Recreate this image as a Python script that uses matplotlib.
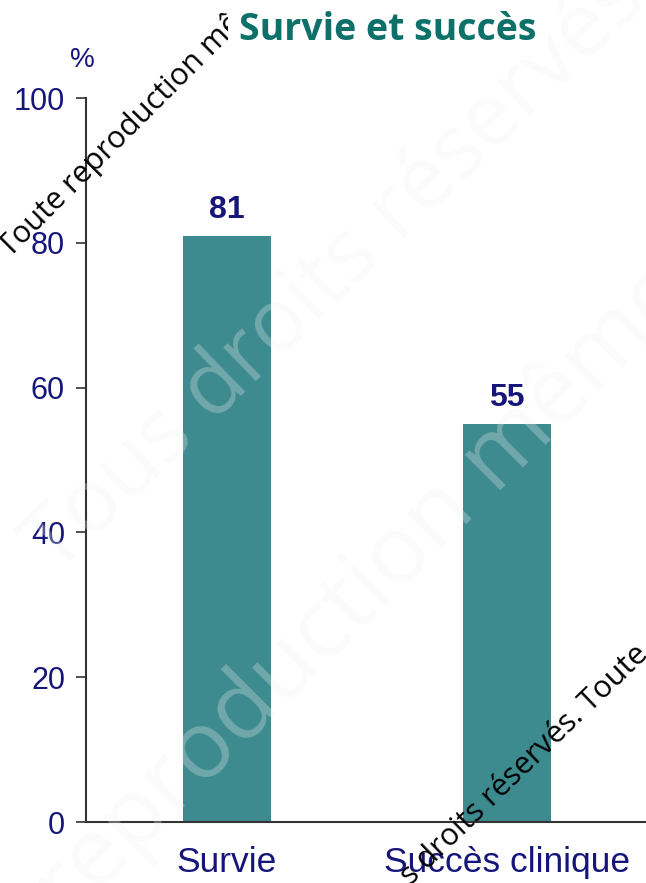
import matplotlib
matplotlib.use("Agg")
import matplotlib.pyplot as plt  # noqa: E402

categories = ["Survie", "Succès clinique"]
values = [81, 55]
yticks = [0, 20, 40, 60, 80, 100]

NAVY, TEAL, BAR = "#16167a", "#0d7069", "#3d8a8f"
W, H = 646, 883


def px(x, y):
    # pixel position (from top-left) -> figure fraction
    return x / W, 1 - y / H


fig = plt.figure(figsize=(6.46, 8.83), dpi=100)
ax = fig.add_axes([0.133, 0.069, 0.867, 0.820])

x = list(range(len(categories)))
ax.bar(x, values, width=0.315, color=BAR, zorder=2)
for xi, v in zip(x, values):
    ax.text(xi, v + 1.5, f"{v}", ha="center", va="bottom", fontsize=23,
            fontweight="bold", color=NAVY, family="Liberation Sans")

ax.set_xlim(-0.504, 1.496)
ax.set_ylim(0, 100)
ax.set_yticks(yticks)
ax.set_yticklabels([str(t) for t in yticks], fontsize=22, color=NAVY, family="Liberation Sans")
ax.set_xticks(x)
ax.set_xticklabels(categories, fontsize=25.5, color=NAVY, family="Liberation Sans")
ax.tick_params(axis="x", length=0, pad=17)
ax.tick_params(axis="y", length=7, width=1.2, color="#333333", pad=8)
for s in ("top", "right"):
    ax.spines[s].set_visible(False)
for s in ("left", "bottom"):
    ax.spines[s].set_color("#333333")
    ax.spines[s].set_linewidth(1.5)

fig.text(*px(82, 60), "%", fontsize=20, color=NAVY, ha="center", va="center",
         family="Liberation Sans")

# watermarks
wm = dict(family="Open Sans", ha="left", va="baseline", rotation_mode="anchor")
fig.text(*px(55, 575), "Tous droits réservés", rotation=44, fontsize=63,
         color="#f2f2f2", alpha=0.29, zorder=5, **wm)
fig.text(*px(68, 922), "reproduction même", rotation=45, fontsize=68,
         color="#f2f2f2", alpha=0.29, zorder=5, **wm)
fig.text(*px(10, 258), "Toute reproduction même partielle", rotation=45, fontsize=22,
         color="black", zorder=6, **wm)
fig.text(*px(411, 886), "s droits réservés. Toute", rotation=44, fontsize=22,
         color="black", zorder=6, **wm)

fig.text(*px(388, 30), "Survie et succès", fontsize=27, fontweight="bold", color=TEAL,
         ha="center", va="center", family="Open Sans", zorder=10,
         bbox=dict(facecolor="white", edgecolor="none", pad=8))

fig.savefig("out.png", dpi=100)
